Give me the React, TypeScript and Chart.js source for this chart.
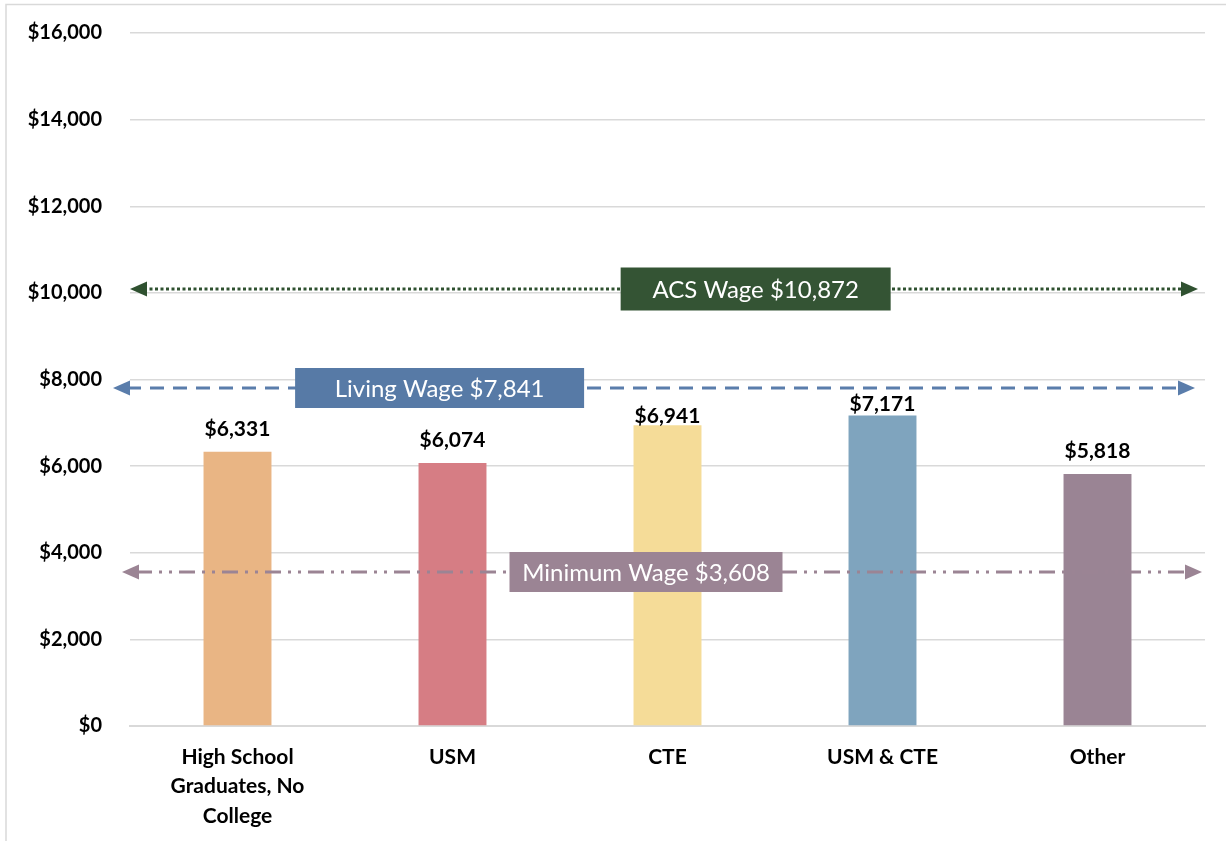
import React, { useEffect, useRef } from "react";
import { Chart, registerables } from "chart.js";

Chart.register(...registerables);

// ---- data ----
const categories: (string | string[])[] = [
  ["High School", "Graduates, No", "College"],
  "USM",
  "CTE",
  "USM & CTE",
  "Other",
];
const earnings = [6331, 6074, 6941, 7171, 5818];
const barColors = ["#E9B584", "#D67D84", "#F5DC98", "#7FA4BE", "#9A8494"];

const yMax = 16000;
const yStep = 2000;

// reference wage lines
const wageNames = ["ACS Wage", "Living Wage", "Minimum Wage"];
const wageValues = [10872, 7841, 3608];
const wageLineLevels = [10100, 7800, 3560]; // where the lines are drawn in the picture
const wageLabelAt = [2.41, 0.94, 1.9]; // label box centre, in category units
const wageColors = ["#2F5130", "#5A7DAB", "#9B8494"];
const wageBoxColors = ["#345434", "#577AA6", "#9B8494"];

const FONT = "Lato, 'Open Sans', sans-serif";
const fmt = (v: number) => "$" + v.toLocaleString("en-US");

const drawArrow = (ctx: CanvasRenderingContext2D, x: number, y: number, dir: number, color: string) => {
  ctx.save();
  ctx.fillStyle = color;
  ctx.beginPath();
  ctx.moveTo(x, y);
  ctx.lineTo(x - dir * 17, y - 7.5);
  ctx.lineTo(x - dir * 17, y + 7.5);
  ctx.closePath();
  ctx.fill();
  ctx.restore();
};

const decorPlugin = {
  id: "decor",
  beforeDraw(chart: any) {
    const { ctx, width, height } = chart;
    ctx.save();
    ctx.fillStyle = "#ffffff";
    ctx.fillRect(0, 0, width, height);
    ctx.strokeStyle = "#d9d9d9";
    ctx.lineWidth = 1.5;
    ctx.beginPath();
    ctx.moveTo(6, height);
    ctx.lineTo(6, 4.5);
    ctx.lineTo(width, 4.5);
    ctx.stroke();
    ctx.restore();
  },
  afterDatasetsDraw(chart: any) {
    const { ctx, chartArea } = chart;
    const x = chart.scales.x;
    const y = chart.scales.y;
    ctx.save();
    // value labels (two of them sit right on top of their bars in the original)
    const labelGap = [16, 16, 2, 4, 16];
    const meta = chart.getDatasetMeta(0);
    ctx.font = `bold 21px ${FONT}`;
    ctx.fillStyle = "#000000";
    ctx.textAlign = "center";
    ctx.textBaseline = "alphabetic";
    meta.data.forEach((bar: any, i: number) => {
      ctx.fillText(fmt(earnings[i]), bar.x, bar.y - labelGap[i]);
    });

    // wage lines
    const extents = [
      [0, -7],
      [-17, -10],
      [-8, -3],
    ];
    const dashes = [[3, 2.5], [14, 9], [16, 7, 3, 7, 3, 7]];
    wageLineLevels.forEach((lvl, i) => {
      const py = Math.round(y.getPixelForValue(lvl));
      const x0 = chartArea.left + extents[i][0];
      const x1 = chartArea.right + extents[i][1];
      ctx.save();
      ctx.strokeStyle = wageColors[i];
      ctx.lineWidth = 3;
      ctx.setLineDash(dashes[i]);
      ctx.beginPath();
      ctx.moveTo(x0 + 14, py);
      ctx.lineTo(x1 - 14, py);
      ctx.stroke();
      ctx.restore();
      drawArrow(ctx, x0, py, -1, wageColors[i]);
      drawArrow(ctx, x1, py, 1, wageColors[i]);
    });

    // label boxes
    const boxW = [270, 289, 273];
    const boxH = [43, 40, 40];
    wageLineLevels.forEach((lvl, i) => {
      const py = Math.round(y.getPixelForValue(lvl));
      const cx = x.getPixelForValue(wageLabelAt[i]);
      ctx.fillStyle = wageBoxColors[i];
      ctx.fillRect(cx - boxW[i] / 2, py - boxH[i] / 2, boxW[i], boxH[i]);
      ctx.fillStyle = "#ffffff";
      ctx.font = `24px ${FONT}`;
      ctx.textAlign = "center";
      ctx.textBaseline = "middle";
      ctx.fillText(`${wageNames[i]} ${fmt(wageValues[i])}`, cx, py + 1);
    });
    ctx.restore();
  },
};

export default function App() {
  const ref = useRef<HTMLCanvasElement | null>(null);
  useEffect(() => {
    if (!ref.current) return;
    const chart = new Chart(ref.current, {
      type: "bar",
      data: {
        labels: categories,
        datasets: [
          {
            data: earnings,
            backgroundColor: barColors,
            barPercentage: 0.316,
            categoryPercentage: 1,
          },
        ],
      },
      options: {
        responsive: false,
        animation: false,
        layout: { padding: { top: 33, right: 21, left: 0, bottom: 0 } },
        plugins: { legend: { display: false }, tooltip: { enabled: false } },
        scales: {
          x: {
            grid: { display: false, drawTicks: false },
            border: { display: true, color: "#d9d9d9", width: 2 },
            ticks: {
              color: "#000000",
              font: { family: FONT, size: 21, weight: "bold", lineHeight: 1.41 },
              padding: 16,
              maxRotation: 0,
              autoSkip: false,
            },
            afterFit: (s: any) => {
              s.height = 115;
              s.paddingLeft = 0;
              s.paddingRight = 0;
            },
          },
          y: {
            min: 0,
            max: yMax,
            grid: { color: "#d9d9d9", lineWidth: 1.5, drawTicks: false },
            border: { display: false },
            ticks: {
              stepSize: yStep,
              color: "#000000",
              font: { family: FONT, size: 20, weight: "bold" },
              padding: 28,
              callback: (v: any) => fmt(Number(v)),
            },
            afterFit: (s: any) => {
              s.width = 130;
              s.paddingTop = 0;
              s.paddingBottom = 0;
            },
          },
        },
      },
      plugins: [decorPlugin],
    });
    return () => chart.destroy();
  }, []);
  return (
    <div style={{ position: "absolute", left: 0, top: 0, width: 1226, height: 841 }}>
      <canvas ref={ref} width={1226} height={841} />
    </div>
  );
}
